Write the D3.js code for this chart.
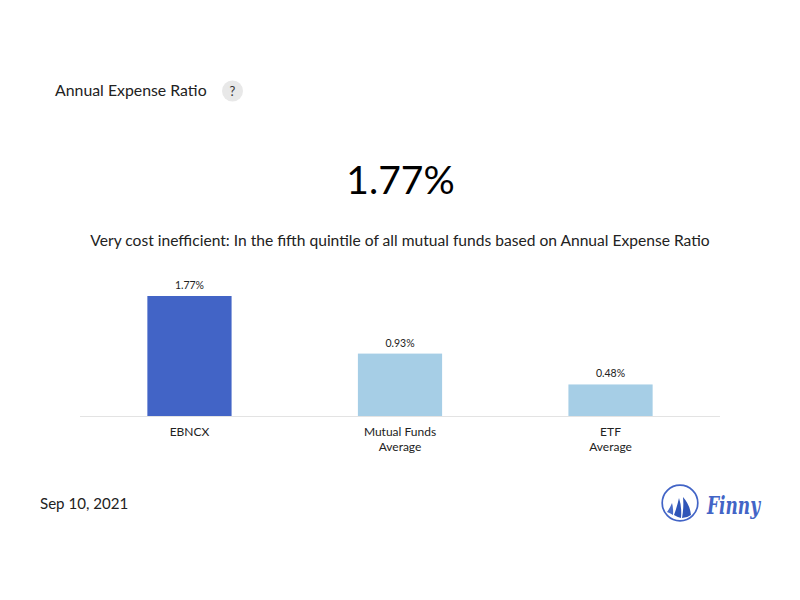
<!DOCTYPE html>
<html><head><meta charset="utf-8">
<script src="https://cdn.jsdelivr.net/npm/d3@7/dist/d3.min.js"></script>
<style>html,body{margin:0;padding:0;background:#fff}svg{display:block}text{font-family:Lato,sans-serif}</style>
</head><body><svg id="c" width="800" height="600"></svg>
<script>
const categories = [["EBNCX"], ["Mutual Funds", "Average"], ["ETF", "Average"]];
const values = [1.77, 0.93, 0.48];
const colors = ["#4264c6", "#a6cee6", "#a6cee6"];
const title = "Annual Expense Ratio";
const bigValue = "1.77%";
const subtitle = "Very cost inefficient: In the fifth quintile of all mutual funds based on Annual Expense Ratio";
const dateLabel = "Sep 10, 2021";

const svg = d3.select("#c");
const x = d3.scaleBand().domain(d3.range(values.length)).range([80, 720]).paddingInner(0.6).paddingOuter(0.32);
const y = d3.scaleLinear().domain([0.02, 1.77]).range([416, 296]);
const base = y.range()[0];

const T = (s, px, py, size, anchor, fill) => svg.append("text").attr("x", px).attr("y", py)
  .attr("font-size", size).attr("text-anchor", anchor).attr("fill", fill).text(s);

T(title, 55, 96, 15.85, "start", "#222");
svg.append("circle").attr("cx", 232.5).attr("cy", 91).attr("r", 10.5).attr("fill", "#e8e8e8");
T("?", 232.5, 95.5, 13, "middle", "#333");
T(bigValue, 400.5, 194, 39, "middle", "#000");
T(subtitle, 400, 246, 15.6, "middle", "#222");

svg.append("g").selectAll("rect").data(values).join("rect")
  .attr("x", (d, i) => x(i)).attr("width", x.bandwidth())
  .attr("y", d => y(d)).attr("height", d => base - y(d))
  .attr("fill", (d, i) => colors[i]);

svg.append("line").attr("x1", 80).attr("x2", 720).attr("y1", 416.5).attr("y2", 416.5)
  .attr("stroke", "#e3e3e3").attr("stroke-width", 1.2);

svg.append("g").selectAll("text").data(values).join("text")
  .attr("x", (d, i) => x(i) + x.bandwidth() / 2).attr("y", d => y(d) - 7)
  .attr("text-anchor", "middle").attr("font-size", 10.5).attr("fill", "#222")
  .text(d => d.toFixed(2) + "%");

categories.forEach((lines, i) => lines.forEach((s, j) =>
  T(s, x(i) + x.bandwidth() / 2, 436 + j * 15, 12, "middle", "#222")));

T(dateLabel, 40, 509, 15.1, "start", "#222");

// Finny logo
const logo = svg.append("g");
logo.append("circle").attr("cx", 680).attr("cy", 503).attr("r", 17.8)
  .attr("fill", "none").attr("stroke", "#4264c6").attr("stroke-width", 1.7);
logo.append("path").attr("d", "M667 512 q3-4 5-9 q1.5 5 1 12 q-3-2-6-3z").attr("fill", "#4a6cc8");
logo.append("path").attr("d", "M674 515 q3-8 5-17 q3 9 2 20 q-4-1-7-3z").attr("fill", "#2f55b8");
logo.append("path").attr("d", "M682 518 q2-11 1-21 q7 8 8 18 q-4 3-9 3z").attr("fill", "#2f55b8");
svg.append("text").attr("x", 707).attr("y", 514).attr("font-size", 24).attr("font-weight", 700)
  .attr("font-style", "italic").attr("fill", "#4264c6").style("font-family", "'DejaVu Serif',serif")
  .attr("textLength", 53).attr("lengthAdjust", "spacingAndGlyphs").text("Finny");
</script></body></html>
